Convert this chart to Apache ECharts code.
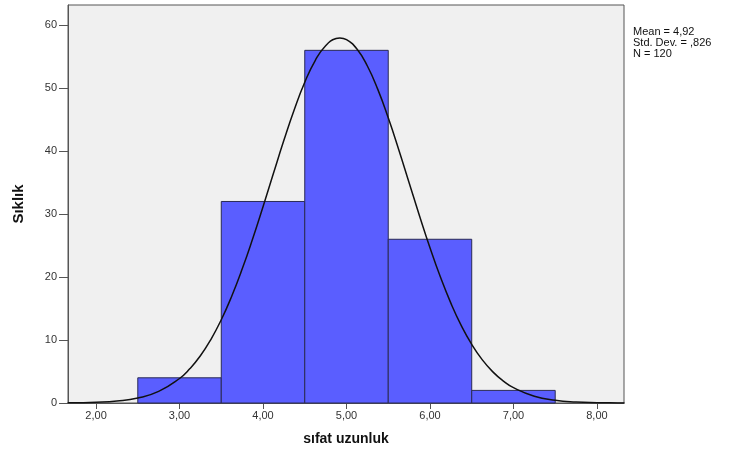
<!DOCTYPE html>
<html>
<head>
<meta charset="utf-8">
<script src="https://cdn.jsdelivr.net/npm/echarts@6/dist/echarts.min.js"></script>
<style>
html,body{margin:0;padding:0;background:#fff;}
#c{width:738px;height:452px;}
</style>
</head>
<body>
<div id="c"></div>
<script>
// Histogram bins (start, end) and frequencies
var binStart = [2.5, 3.5, 4.5, 5.5, 6.5];
var binEnd   = [3.5, 4.5, 5.5, 6.5, 7.5];
var counts   = [4, 32, 56, 26, 2];

// Normal curve
var curveX = [1.66, 1.75, 2.0, 2.25, 2.5, 2.75, 3.0, 3.125, 3.25, 3.375, 3.5, 3.625, 3.75, 3.875, 4.0, 4.125, 4.25, 4.375, 4.5, 4.625, 4.75, 4.875, 4.92, 5.0, 5.125, 5.25, 5.375, 5.5, 5.625, 5.75, 5.875, 6.0, 6.125, 6.25, 6.375, 6.5, 6.625, 6.75, 6.875, 7.0, 7.25, 7.5, 7.75, 8.0, 8.25, 8.33];
var curveY = [0.02, 0.04, 0.11, 0.31, 0.79, 1.84, 3.89, 5.47, 7.5, 10.08, 13.22, 16.96, 21.26, 26.04, 31.17, 36.47, 41.71, 46.62, 50.93, 54.38, 56.74, 57.87, 57.96, 57.69, 56.2, 53.51, 49.8, 45.29, 40.27, 34.98, 29.71, 24.66, 20.0, 15.86, 12.28, 9.3, 6.89, 4.98, 3.52, 2.43, 1.08, 0.44, 0.16, 0.055, 0.017, 0.012];

var xTicks = ['2,00', '3,00', '4,00', '5,00', '6,00', '7,00', '8,00'];
var xTickValues = [2, 3, 4, 5, 6, 7, 8];
var yTicks = [0, 10, 20, 30, 40, 50, 60];
var statsText = ['Mean = 4,92', 'Std. Dev. = ,826', 'N = 120'];

var chart = echarts.init(document.getElementById('c'));

var barData = binStart.map(function (s, i) { return [s, binEnd[i], counts[i]]; });
var curveData = curveX.map(function (x, i) { return [x, curveY[i]]; });

var font = 'Arial, "Liberation Sans", sans-serif';

chart.setOption({
  animation: false,
  backgroundColor: '#ffffff',
  grid: {
    left: 68, right: 114, top: 5, bottom: 49,
    outerBoundsMode: 'none',
    containLabel: false,
    show: true, backgroundColor: '#f0f0f0', borderColor: '#555', borderWidth: 1
  },
  xAxis: {
    type: 'value',
    min: 1.664, max: 8.324,
    axisLine: { show: true, onZero: false, lineStyle: { color: '#555', width: 1 } },
    axisTick: { show: true, inside: false, length: 6, lineStyle: { color: '#555' }, customValues: xTickValues },
    axisLabel: {
      customValues: xTickValues,
      formatter: function (v) { return xTicks[xTickValues.indexOf(Math.round(v))]; },
      color: '#333', fontSize: 11, fontFamily: font, margin: 7
    },
    splitLine: { show: false },
    name: 'sıfat uzunluk',
    nameLocation: 'middle',
    nameGap: 29,
    nameTextStyle: { color: '#111', fontSize: 14, fontWeight: 'bold', fontFamily: font }
  },
  yAxis: {
    type: 'value',
    min: 0, max: 63.2,
    axisLine: { show: true, lineStyle: { color: '#555', width: 1 } },
    axisTick: { show: true, inside: false, length: 9, lineStyle: { color: '#555' }, customValues: yTicks },
    axisLabel: {
      customValues: yTicks,
      color: '#333', fontSize: 11, fontFamily: font, margin: 11
    },
    splitLine: { show: false },
    name: 'Sıklık',
    nameLocation: 'middle',
    nameGap: 42,
    nameTextStyle: { color: '#111', fontSize: 15, fontWeight: 'bold', fontFamily: '"Liberation Sans Narrow", ' + font }
  },
  series: [
    {
      type: 'custom',
      data: barData,
      encode: { x: [0, 1], y: 2 },
      renderItem: function (params, api) {
        var p0 = api.coord([api.value(0), api.value(2)]);
        var p1 = api.coord([api.value(1), 0]);
        return {
          type: 'rect',
          shape: { x: p0[0], y: p0[1], width: p1[0] - p0[0], height: p1[1] - p0[1] },
          style: { fill: '#5a5eff', stroke: '#2a2a55', lineWidth: 1 }
        };
      },
      z: 2
    },
    {
      type: 'line',
      data: curveData,
      smooth: true,
      showSymbol: false,
      lineStyle: { color: '#111', width: 1.5 },
      clip: true,
      z: 3
    }
  ],
  graphic: [
    {
      type: 'text',
      left: 633, top: 26,
      style: {
        text: statsText.join('\n'),
        fill: '#111',
        fontSize: 11,
        lineHeight: 11,
        fontFamily: font
      }
    }
  ]
});
</script>
</body>
</html>
